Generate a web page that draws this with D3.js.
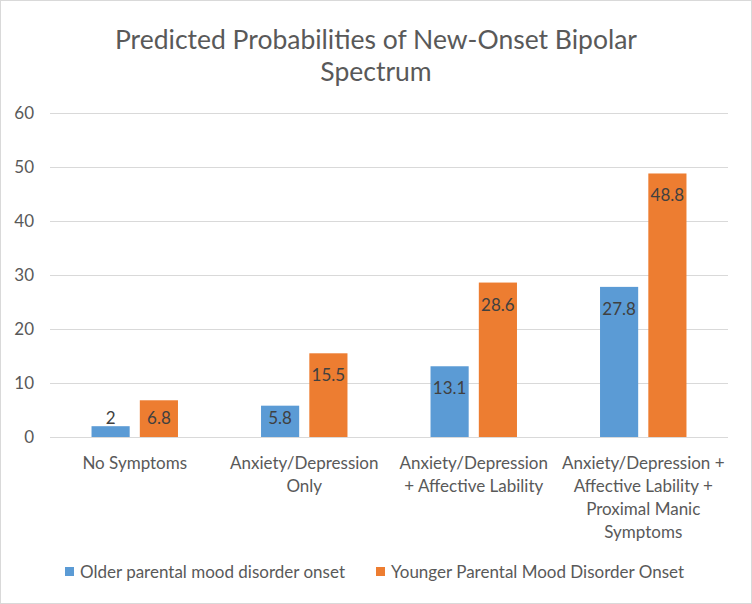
<!DOCTYPE html>
<html>
<head>
<meta charset="utf-8">
<script src="https://cdn.jsdelivr.net/npm/d3@7"></script>
<style>
  body { margin: 0; background: #fff; }
  svg text { font-family: Lato, "Open Sans", sans-serif; }
</style>
</head>
<body>
<svg id="chart"></svg>
<script>
// ---- data ----
const categories = ["No Symptoms", "Anxiety/Depression Only", "Anxiety/Depression + Affective Lability", "Anxiety/Depression + Affective Lability + Proximal Manic Symptoms"];
const categoryLines = [
  ["No Symptoms"],
  ["Anxiety/Depression", "Only"],
  ["Anxiety/Depression", "+ Affective Lability"],
  ["Anxiety/Depression +", "Affective Lability +", "Proximal Manic", "Symptoms"]
];
const seriesNames = ["Older parental mood disorder onset", "Younger Parental Mood Disorder Onset"];
const olderValues = [2, 5.8, 13.1, 27.8];
const youngerValues = [6.8, 15.5, 28.6, 48.8];
const yTicks = [0, 10, 20, 30, 40, 50, 60];
const titleLines = ["Predicted Probabilities of New-Onset Bipolar", "Spectrum"];

const colors = ["#5B9BD5", "#ED7D31"];

const W = 752, H = 604;
const margin = {top: 113, right: 24, bottom: 167, left: 50};
const width = W - margin.left - margin.right;
const height = H - margin.top - margin.bottom;

const svg = d3.select("#chart").attr("width", W).attr("height", H);

// outer border
svg.append("rect")
  .attr("x", 0.5).attr("y", 0.5)
  .attr("width", W - 1).attr("height", H - 1)
  .attr("fill", "#fff").attr("stroke", "#d9d9d9");

// title
svg.append("g").selectAll("text")
  .data(titleLines)
  .enter().append("text")
  .attr("x", W / 2)
  .attr("y", (d, i) => 49 + i * 32)
  .attr("text-anchor", "middle")
  .attr("fill", "#595959")
  .style("font-size", "26.5px")
  .text(d => d);

const chart = svg.append("g")
  .attr("transform", `translate(${margin.left},${margin.top})`);

// scales
const x = d3.scaleBand().domain(categories).range([0, width])
  .paddingInner(0.49).paddingOuter(0.245);
const xs = d3.scaleBand().domain(seriesNames).range([0, x.bandwidth()])
  .paddingInner(0.21);
const y = d3.scaleLinear().domain([0, 60]).range([height, 0]);

// y axis + gridlines
const yAxis = chart.append("g")
  .call(d3.axisLeft(y).tickValues(yTicks).tickSize(-width).tickPadding(16));
yAxis.select(".domain").remove();
yAxis.selectAll(".tick line").attr("stroke", "#d9d9d9");
yAxis.selectAll(".tick text")
  .attr("fill", "#595959")
  .style("font-size", "17px");

// x axis labels
const xAxis = chart.append("g")
  .attr("transform", `translate(0,${height})`)
  .call(d3.axisBottom(x).tickSize(0).tickFormat(""));
xAxis.select(".domain").remove();
xAxis.selectAll(".tick text").remove();
xAxis.selectAll(".tick").each(function(d, i) {
  const t = d3.select(this).append("text")
    .attr("text-anchor", "middle")
    .attr("fill", "#595959")
    .style("font-size", "17px");
  t.selectAll("tspan")
    .data(categoryLines[i])
    .enter().append("tspan")
    .attr("x", 0)
    .attr("y", (l, j) => 32 + j * 23)
    .text(l => l);
});

// bars
const rows = categories.map((c, i) => ({cat: c, vals: [olderValues[i], youngerValues[i]]}));
const groups = chart.selectAll(".grp")
  .data(rows)
  .enter().append("g")
  .attr("class", "grp")
  .attr("transform", d => `translate(${x(d.cat)},0)`);

const bars = groups.selectAll(".bar")
  .data(d => d.vals.map((v, k) => ({name: seriesNames[k], value: v, k: k})))
  .enter();

bars.append("rect")
  .attr("x", d => xs(d.name))
  .attr("y", d => y(d.value))
  .attr("width", xs.bandwidth())
  .attr("height", d => height - y(d.value))
  .attr("fill", d => colors[d.k]);

// data labels (inside end, clamped near baseline)
bars.append("text")
  .attr("x", d => xs(d.name) + xs.bandwidth() / 2)
  .attr("y", d => Math.min(y(d.value) + 22, height - 19))
  .attr("dy", "0.35em")
  .attr("text-anchor", "middle")
  .attr("fill", "#404040")
  .style("font-size", "17px")
  .text(d => d.value);

// legend
const legendX = [65, 376];
const legend = svg.append("g").selectAll("g")
  .data(seriesNames)
  .enter().append("g")
  .attr("transform", (d, i) => `translate(${legendX[i]},572)`);
legend.append("rect")
  .attr("x", 0).attr("y", -5)
  .attr("width", 9).attr("height", 9)
  .attr("fill", (d, i) => colors[i]);
legend.append("text")
  .attr("x", 15)
  .attr("dy", "0.35em")
  .attr("fill", "#595959")
  .style("font-size", "17px")
  .text(d => d);
</script>
</body>
</html>
